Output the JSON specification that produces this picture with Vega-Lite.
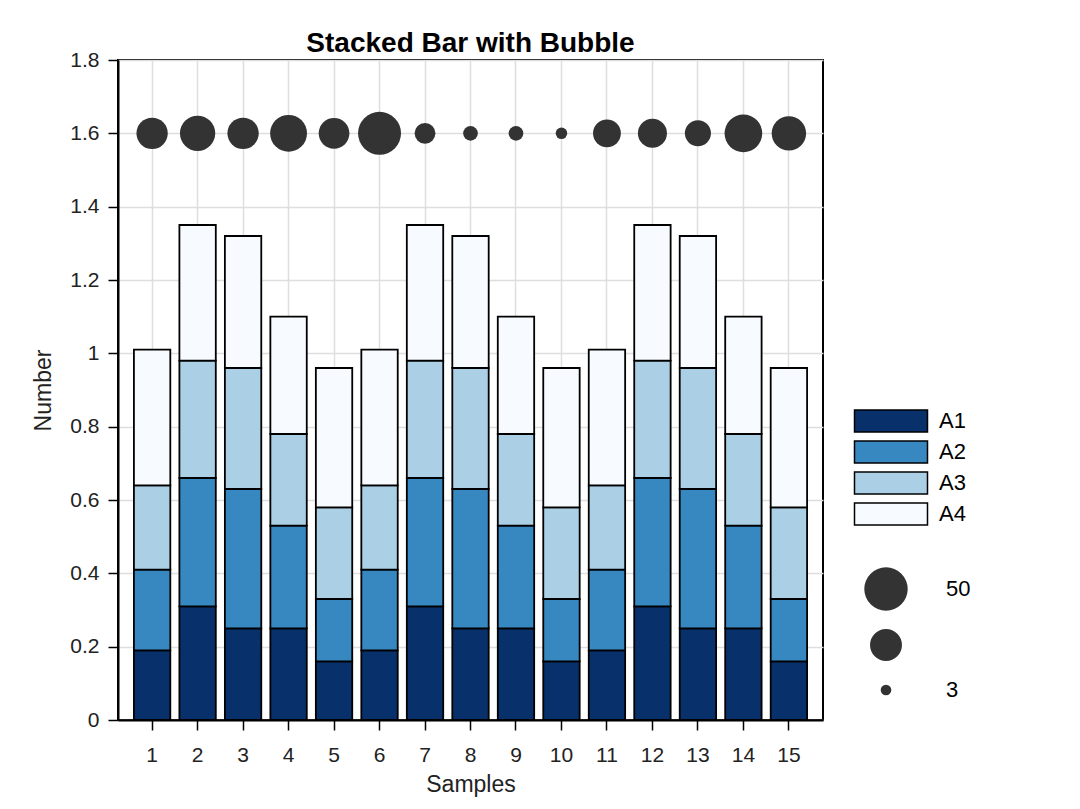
{
  "$schema": "https://vega.github.io/schema/vega-lite/v6.json",
  "autosize": {"type": "none"},
  "padding": {"left": 118, "top": 60, "right": 257, "bottom": 89},
  "width": 705,
  "height": 660,
  "background": "white",
  "title": {"text": "Stacked Bar with Bubble", "fontSize": 28, "font": "Liberation Sans", "fontWeight": "bold", "color": "black", "anchor": "middle", "offset": -9},
  "config": {
    "font": "Liberation Sans",
    "view": {"stroke": "black", "strokeWidth": 2},
    "axis": {"labelFont": "Liberation Sans", "titleFont": "Liberation Sans", "labelFontSize": 21, "titleFontSize": 23, "labelColor": "#222", "titleColor": "#222", "titleFontWeight": "normal", "tickColor": "black", "tickWidth": 1.5, "tickSize": 10, "domainColor": "black", "domainWidth": 2, "gridColor": "#dedede", "gridWidth": 1.5},
    "legend": {"labelFont": "Liberation Sans", "labelColor": "black"}
  },
  "datasets": {
    "bars": [
      {"sample": 1, "cat": "A1", "value": 0.19}, {"sample": 1, "cat": "A2", "value": 0.22}, {"sample": 1, "cat": "A3", "value": 0.23}, {"sample": 1, "cat": "A4", "value": 0.37},
      {"sample": 2, "cat": "A1", "value": 0.31}, {"sample": 2, "cat": "A2", "value": 0.35}, {"sample": 2, "cat": "A3", "value": 0.32}, {"sample": 2, "cat": "A4", "value": 0.37},
      {"sample": 3, "cat": "A1", "value": 0.25}, {"sample": 3, "cat": "A2", "value": 0.38}, {"sample": 3, "cat": "A3", "value": 0.33}, {"sample": 3, "cat": "A4", "value": 0.36},
      {"sample": 4, "cat": "A1", "value": 0.25}, {"sample": 4, "cat": "A2", "value": 0.28}, {"sample": 4, "cat": "A3", "value": 0.25}, {"sample": 4, "cat": "A4", "value": 0.32},
      {"sample": 5, "cat": "A1", "value": 0.16}, {"sample": 5, "cat": "A2", "value": 0.17}, {"sample": 5, "cat": "A3", "value": 0.25}, {"sample": 5, "cat": "A4", "value": 0.38},
      {"sample": 6, "cat": "A1", "value": 0.19}, {"sample": 6, "cat": "A2", "value": 0.22}, {"sample": 6, "cat": "A3", "value": 0.23}, {"sample": 6, "cat": "A4", "value": 0.37},
      {"sample": 7, "cat": "A1", "value": 0.31}, {"sample": 7, "cat": "A2", "value": 0.35}, {"sample": 7, "cat": "A3", "value": 0.32}, {"sample": 7, "cat": "A4", "value": 0.37},
      {"sample": 8, "cat": "A1", "value": 0.25}, {"sample": 8, "cat": "A2", "value": 0.38}, {"sample": 8, "cat": "A3", "value": 0.33}, {"sample": 8, "cat": "A4", "value": 0.36},
      {"sample": 9, "cat": "A1", "value": 0.25}, {"sample": 9, "cat": "A2", "value": 0.28}, {"sample": 9, "cat": "A3", "value": 0.25}, {"sample": 9, "cat": "A4", "value": 0.32},
      {"sample": 10, "cat": "A1", "value": 0.16}, {"sample": 10, "cat": "A2", "value": 0.17}, {"sample": 10, "cat": "A3", "value": 0.25}, {"sample": 10, "cat": "A4", "value": 0.38},
      {"sample": 11, "cat": "A1", "value": 0.19}, {"sample": 11, "cat": "A2", "value": 0.22}, {"sample": 11, "cat": "A3", "value": 0.23}, {"sample": 11, "cat": "A4", "value": 0.37},
      {"sample": 12, "cat": "A1", "value": 0.31}, {"sample": 12, "cat": "A2", "value": 0.35}, {"sample": 12, "cat": "A3", "value": 0.32}, {"sample": 12, "cat": "A4", "value": 0.37},
      {"sample": 13, "cat": "A1", "value": 0.25}, {"sample": 13, "cat": "A2", "value": 0.38}, {"sample": 13, "cat": "A3", "value": 0.33}, {"sample": 13, "cat": "A4", "value": 0.36},
      {"sample": 14, "cat": "A1", "value": 0.25}, {"sample": 14, "cat": "A2", "value": 0.28}, {"sample": 14, "cat": "A3", "value": 0.25}, {"sample": 14, "cat": "A4", "value": 0.32},
      {"sample": 15, "cat": "A1", "value": 0.16}, {"sample": 15, "cat": "A2", "value": 0.17}, {"sample": 15, "cat": "A3", "value": 0.25}, {"sample": 15, "cat": "A4", "value": 0.38}
    ],
    "bubbles": [
      {"sample": 1, "count": 26}, {"sample": 2, "count": 33}, {"sample": 3, "count": 26}, {"sample": 4, "count": 36}, {"sample": 5, "count": 25},
      {"sample": 6, "count": 49}, {"sample": 7, "count": 11.5}, {"sample": 8, "count": 5.7}, {"sample": 9, "count": 5.7}, {"sample": 10, "count": 3.5},
      {"sample": 11, "count": 20.5}, {"sample": 12, "count": 22.4}, {"sample": 13, "count": 18}, {"sample": 14, "count": 37.6}, {"sample": 15, "count": 31.4}
    ]
  },
  "layer": [
    {
      "data": {"name": "bars"},
      "mark": {"type": "bar", "stroke": "black", "strokeWidth": 1.8},
      "encoding": {
        "x": {"field": "sample", "type": "ordinal", "title": "Samples",
              "scale": {"paddingInner": 0.2, "paddingOuter": 0.35},
              "axis": {"labelAngle": 0, "grid": true, "bandPosition": 0.5, "titlePadding": 8, "labelPadding": 14}},
        "y": {"field": "value", "type": "quantitative", "aggregate": "sum", "stack": "zero", "title": "Number",
              "scale": {"domain": [0, 1.8], "nice": false},
              "axis": {"values": [0, 0.2, 0.4, 0.6, 0.8, 1, 1.2, 1.4, 1.6, 1.8], "format": "~g", "grid": true, "titlePadding": 14, "labelPadding": 9}},
        "color": {"field": "cat", "type": "nominal",
                  "scale": {"domain": ["A1", "A2", "A3", "A4"], "range": ["#08306b", "#3787c0", "#abd0e6", "#f7fbff"]},
                  "legend": {"orient": "none", "legendX": 762, "legendY": 350, "title": null,
                             "symbolType": "M-4,-1.2H4V1.2H-4Z", "symbolSize": 333, "symbolStrokeColor": "black", "symbolStrokeWidth": 1.5,
                             "labelFontSize": 22, "labelOffset": 37, "rowPadding": 3}},
        "order": {"field": "cat", "sort": "ascending"}
      }
    },
    {
      "data": {"name": "bubbles"},
      "mark": {"type": "circle", "color": "#333333", "opacity": 1},
      "encoding": {
        "x": {"field": "sample", "type": "ordinal"},
        "y": {"datum": 1.6},
        "size": {"field": "count", "type": "quantitative",
                 "scale": {"domain": [0, 50], "range": [0, 1886]},
                 "legend": {"orient": "none", "legendX": 746, "legendY": 507, "title": null, "values": [50, 27, 3],
                            "labelExpr": "datum.value == 27 ? '' : datum.label", "symbolFillColor": "#333333", "symbolStrokeWidth": 0,
                            "symbolOpacity": 1, "labelFontSize": 22, "labelOffset": 38, "rowPadding": 18}}
      }
    }
  ]
}
